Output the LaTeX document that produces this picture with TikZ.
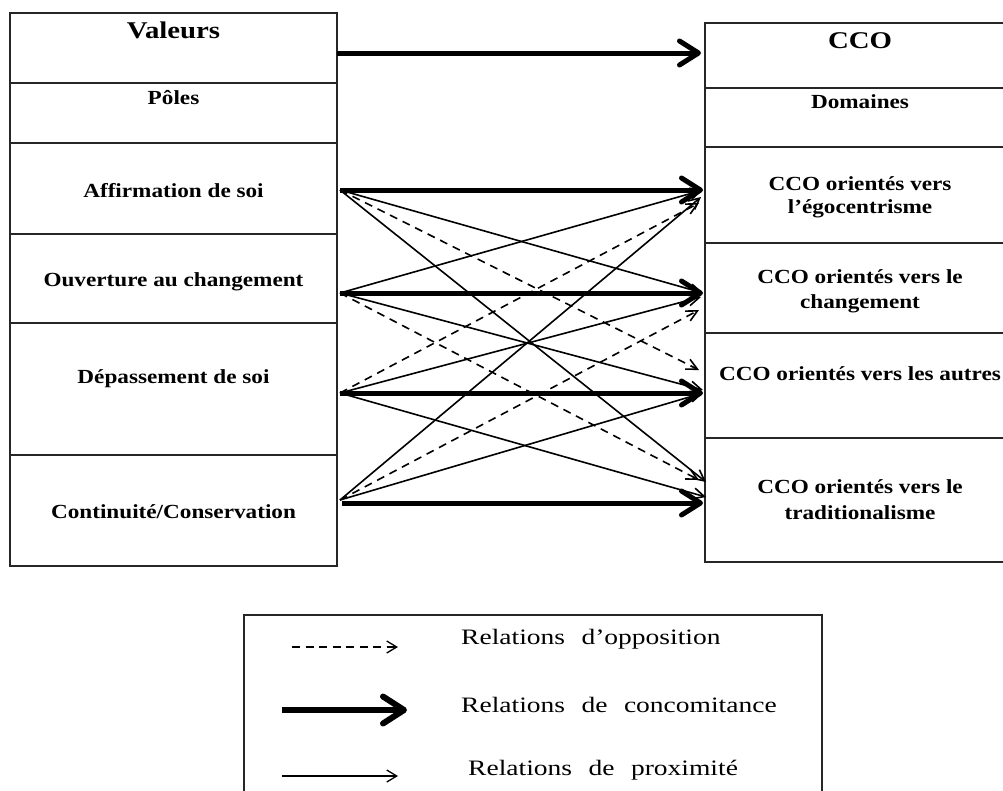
\documentclass[tikz,border=0pt]{standalone}
\usepackage{fontspec}
\setmainfont{Liberation Serif}
\newfontfamily\cellfont[FakeStretch=1.16]{Liberation Serif}
\newfontfamily\titlefont[FakeStretch=1.2]{Liberation Serif}
\newfontfamily\legfont[FakeStretch=1.25,WordSpace=2.4]{Liberation Serif}
\usetikzlibrary{arrows.meta}

\begin{document}
\begin{tikzpicture}[x=1pt,y=-1pt,
  cell/.style={draw=black!85,line width=1.3pt,inner sep=0pt,outer sep=0pt},
  lbl/.style={inner sep=0pt,anchor=base,font=\cellfont\bfseries\fontsize{20}{24}\selectfont},
  big/.style={inner sep=0pt,anchor=base,font=\titlefont\bfseries\fontsize{24}{28}\selectfont},
  legtext/.style={inner sep=0pt,anchor=base west,font=\legfont\fontsize{22}{26}\selectfont},
  concom/.style={line width=5pt,-{Straight Barb[length=19pt,width=24pt,round]}},
  proxi/.style={line width=1.6pt,-{Straight Barb[length=11pt,width=11pt]}},
  oppos/.style={line width=1.6pt,dash pattern=on 8pt off 6pt,-{Straight Barb[length=11pt,width=11pt]}}]

\useasboundingbox (0,0) rectangle (1003,790);

% ---- left table: values ----
\node[cell,minimum width=327pt,minimum height=70pt] (cVal) at (173.5,48) {};
\node[cell,minimum width=327pt,minimum height=60pt] (cPol) at (173.5,113) {};
\node[cell,minimum width=327pt,minimum height=91pt] (cAff) at (173.5,188.5) {};
\node[cell,minimum width=327pt,minimum height=89pt] (cOuv) at (173.5,278.5) {};
\node[cell,minimum width=327pt,minimum height=132pt] (cDep) at (173.5,389) {};
\node[cell,minimum width=327pt,minimum height=111pt] (cCon) at (173.5,510.5) {};

\node[big] (tVal) at (173.5,38) {Valeurs};
\node[lbl] (tPol) at (173.5,104) {Pôles};
\node[lbl] (tAff) at (173.5,197) {Affirmation de soi};
\node[lbl] (tOuv) at (173.5,286) {Ouverture au changement};
\node[lbl] (tDep) at (173.5,383) {Dépassement de soi};
\node[lbl] (tCon) at (173.5,518) {Continuité/Conservation};

% ---- right table: domains (runs past the right edge) ----
\node[cell,minimum width=310pt,minimum height=65pt] (dCCO) at (860,55.5) {};
\node[cell,minimum width=310pt,minimum height=59pt] (dDom) at (860,117.5) {};
\node[cell,minimum width=310pt,minimum height=96pt] (dEgo) at (860,195) {};
\node[cell,minimum width=310pt,minimum height=90pt] (dCha) at (860,288) {};
\node[cell,minimum width=310pt,minimum height=105pt] (dAut) at (860,385.5) {};
\node[cell,minimum width=310pt,minimum height=124pt] (dTra) at (860,500) {};

\node[big] (tCCO) at (860,48) {CCO};
\node[lbl] (tDom) at (860,108) {Domaines};
\node[lbl] (tEgoA) at (860,190) {CCO orientés vers};
\node[lbl] (tEgoB) at (860,213) {l’égocentrisme};
\node[lbl] (tChaA) at (860,283) {CCO orientés vers le};
\node[lbl] (tChaB) at (860,308) {changement};
\node[lbl] (tAut) at (860,380) {CCO orientés vers les autres};
\node[lbl] (tTraA) at (860,493) {CCO orientés vers le};
\node[lbl] (tTraB) at (860,519) {traditionalisme};

% ---- connector ends ----
\coordinate (vTop) at (337,53);   \coordinate (dTop) at (701,53);
\coordinate (sA) at (340,190);
\coordinate (sO) at (340,293);
\coordinate (sD) at (340,393);
\coordinate (sC) at (340,500);
\coordinate (sC2) at (342,503);

\coordinate (eE) at (703,190);  \coordinate (eE2) at (701,197); \coordinate (eE3) at (699,203);
\coordinate (eH) at (703,293);  \coordinate (eH2) at (701,297); \coordinate (eH3) at (699,310);
\coordinate (eU) at (703,393);  \coordinate (eU2) at (703,390); \coordinate (eU3) at (699,370);
\coordinate (eT) at (703,503);  \coordinate (eT2) at (706,497); \coordinate (eT3) at (706,482);
\coordinate (eT4) at (699,480);

% ---- concomitance ----
\draw[concom] (vTop) -- (dTop);
\draw[concom] (sA) -- (eE);
\draw[concom] (sO) -- (eH);
\draw[concom] (sD) -- (eU);
\draw[concom] (sC2) -- (eT);

% ---- proximity ----
\draw[proxi] (sA) -- (eH);
\draw[proxi] (sA) -- (eT3);
\draw[proxi] (sO) -- (eE);
\draw[proxi] (sO) -- (eU2);
\draw[proxi] (sD) -- (eH2);
\draw[proxi] (sD) -- (eT2);
\draw[proxi] (sC) -- (eE2);
\draw[proxi] (sC) -- (eU);

% ---- opposition ----
\draw[oppos] (sA) -- (eU3);
\draw[oppos] (sO) -- (eT4);
\draw[oppos] (sD) -- (eE3);
\draw[oppos] (sC) -- (eH3);

% ---- legend ----
\node[cell,minimum width=578pt,minimum height=200pt] (leg) at (533,715) {};
\coordinate (l1a) at (292,647); \coordinate (l1b) at (398,647);
\coordinate (l2a) at (282,710); \coordinate (l2b) at (407,710);
\coordinate (l3a) at (282,776); \coordinate (l3b) at (398,776);
\draw[line width=1.3pt,dash pattern=on 8pt off 5.5pt,-{Straight Barb[length=10pt,width=12pt]}] (l1a) -- (l1b);
\draw[line width=6pt,-{Straight Barb[length=21pt,width=27pt,round]}] (l2a) -- (l2b);
\draw[line width=1.3pt,-{Straight Barb[length=10pt,width=12pt]}] (l3a) -- (l3b);
\node[legtext] (lgOpp) at (461,644) {Relations d’opposition};
\node[legtext] (lgCon) at (461,712) {Relations de concomitance};
\node[legtext] (lgPro) at (468,775) {Relations de proximité};

\end{tikzpicture}
\end{document}
